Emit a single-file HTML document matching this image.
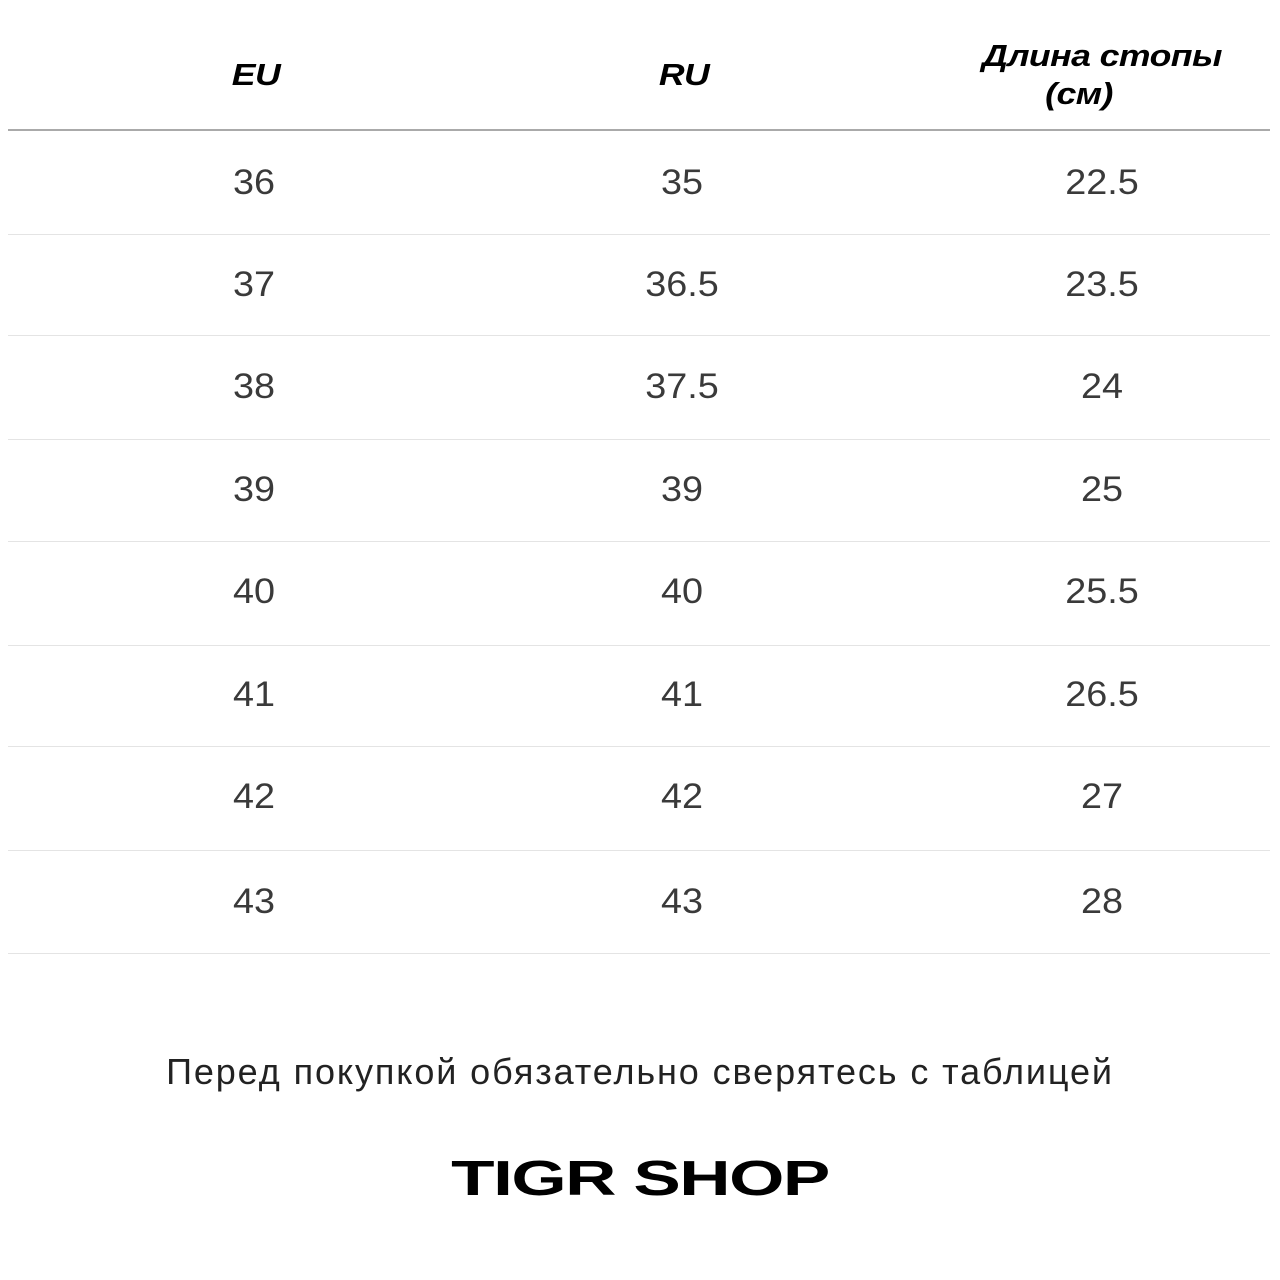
<!DOCTYPE html>
<html><head><meta charset="utf-8"><style>
body{margin:0;width:1280px;height:1280px;background:#fff;position:relative;overflow:hidden;font-family:"Liberation Sans",sans-serif;}
.h{position:absolute;font-weight:900;font-style:italic;font-size:31px;color:#000;transform:translateX(-50%) scaleX(1.15);text-align:center;line-height:38px;letter-spacing:-0.5px;}
.c{position:absolute;font-size:35px;color:#3a3a3a;transform:translate(-50%,-50%) scaleX(1.08);white-space:nowrap;}
.l{position:absolute;left:8px;width:1262px;height:1px;background:#e4e4e4;}
</style></head><body>
<div class="h" style="left:256px;top:56px">EU</div>
<div class="h" style="left:684px;top:56px">RU</div>
<div class="h" style="left:1102px;top:37px;width:300px">Длина стопы<br><span style="margin-right:40px">(см)</span></div>
<div class="l" style="top:129px;background:#aaa;height:2px"></div>
<div id="rows"></div>
<div style="position:absolute;left:0;width:1280px;top:1051px;text-align:center;font-size:36px;color:#222;letter-spacing:1.9px">Перед покупкой обязательно сверятесь с таблицей</div>
<div style="position:absolute;left:0;width:1280px;top:1151px;text-align:center;font-size:49px;font-weight:900;color:#000;letter-spacing:-1px;transform:scaleX(1.45)">TIGR SHOP</div>
<script>
const eu=["36","37","38","39","40","41","42","43"];
const ru=["35","36.5","37.5","39","40","41","42","43"];
const cm=["22.5","23.5","24","25","25.5","26.5","27","28"];
const centers=[183,285,387,490,592,695,797,902];
const lines=[234,335,439,541,645,746,850,953];
const cols=[254,682,1102];
const r=document.getElementById('rows');
for(let i=0;i<eu.length;i++){
 [eu[i],ru[i],cm[i]].forEach((v,j)=>{
  const d=document.createElement('div');d.className='c';
  
  
  d.style.left=cols[j]+'px';d.style.top=centers[i]+'px';d.textContent=v;r.appendChild(d);
 });
 const l=document.createElement('div');l.className='l';
 
 
 l.style.top=lines[i]+'px';r.appendChild(l);
}
</script>
</body></html>
